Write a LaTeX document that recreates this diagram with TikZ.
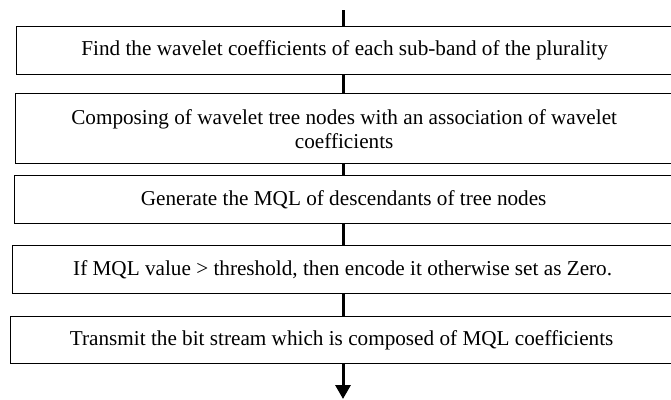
\documentclass[tikz,border=0pt]{standalone}
\usepackage{fontspec}
\setmainfont{Liberation Serif}
\usetikzlibrary{arrows.meta}
\begin{document}
\begin{tikzpicture}[x=1pt,y=-1pt,
  stage/.style={draw, line width=1.3pt, anchor=north west, inner sep=0pt,
    font=\fontsize{21.2}{24}\selectfont, align=center},
  link/.style={line width=3pt},
  outflow/.style={line width=3pt, -{Triangle[length=14pt,width=15pt]}}]
\useasboundingbox (0,0) rectangle (671,399);
\clip (0,0) rectangle (671,399);
% process steps, top to bottom
\node[stage, minimum width=656pt, minimum height=48pt] (s1) at (16,26)
  {Find the wavelet coefficients of each sub-band of the plurality};
\node[stage, minimum width=657pt, minimum height=70pt] (s2) at (15,93)
  {Composing of wavelet tree nodes with an association of wavelet\\coefficients};
\node[stage, minimum width=658pt, minimum height=48pt] (s3) at (14,175)
  {Generate the MQL of descendants of tree nodes};
\node[stage, minimum width=660pt, minimum height=48pt] (s4) at (12,245)
  {If MQL value > threshold, then encode it otherwise set as Zero.};
\node[stage, minimum width=662pt, minimum height=47pt] (s5) at (10,316)
  {Transmit the bit stream which is composed of MQL coefficients};
% flow line
\coordinate (axis) at (343,0);
\coordinate (start) at (343,10);
\coordinate (finish) at (343,399);
\draw[link] (start) -- (s1.north -| axis);
\draw[link] (s1.south -| axis) -- (s2.north -| axis);
\draw[link] (s2.south -| axis) -- (s3.north -| axis);
\draw[link] (s3.south -| axis) -- (s4.north -| axis);
\draw[link] (s4.south -| axis) -- (s5.north -| axis);
\draw[outflow] (s5.south -| axis) -- (finish);
\end{tikzpicture}
\end{document}
